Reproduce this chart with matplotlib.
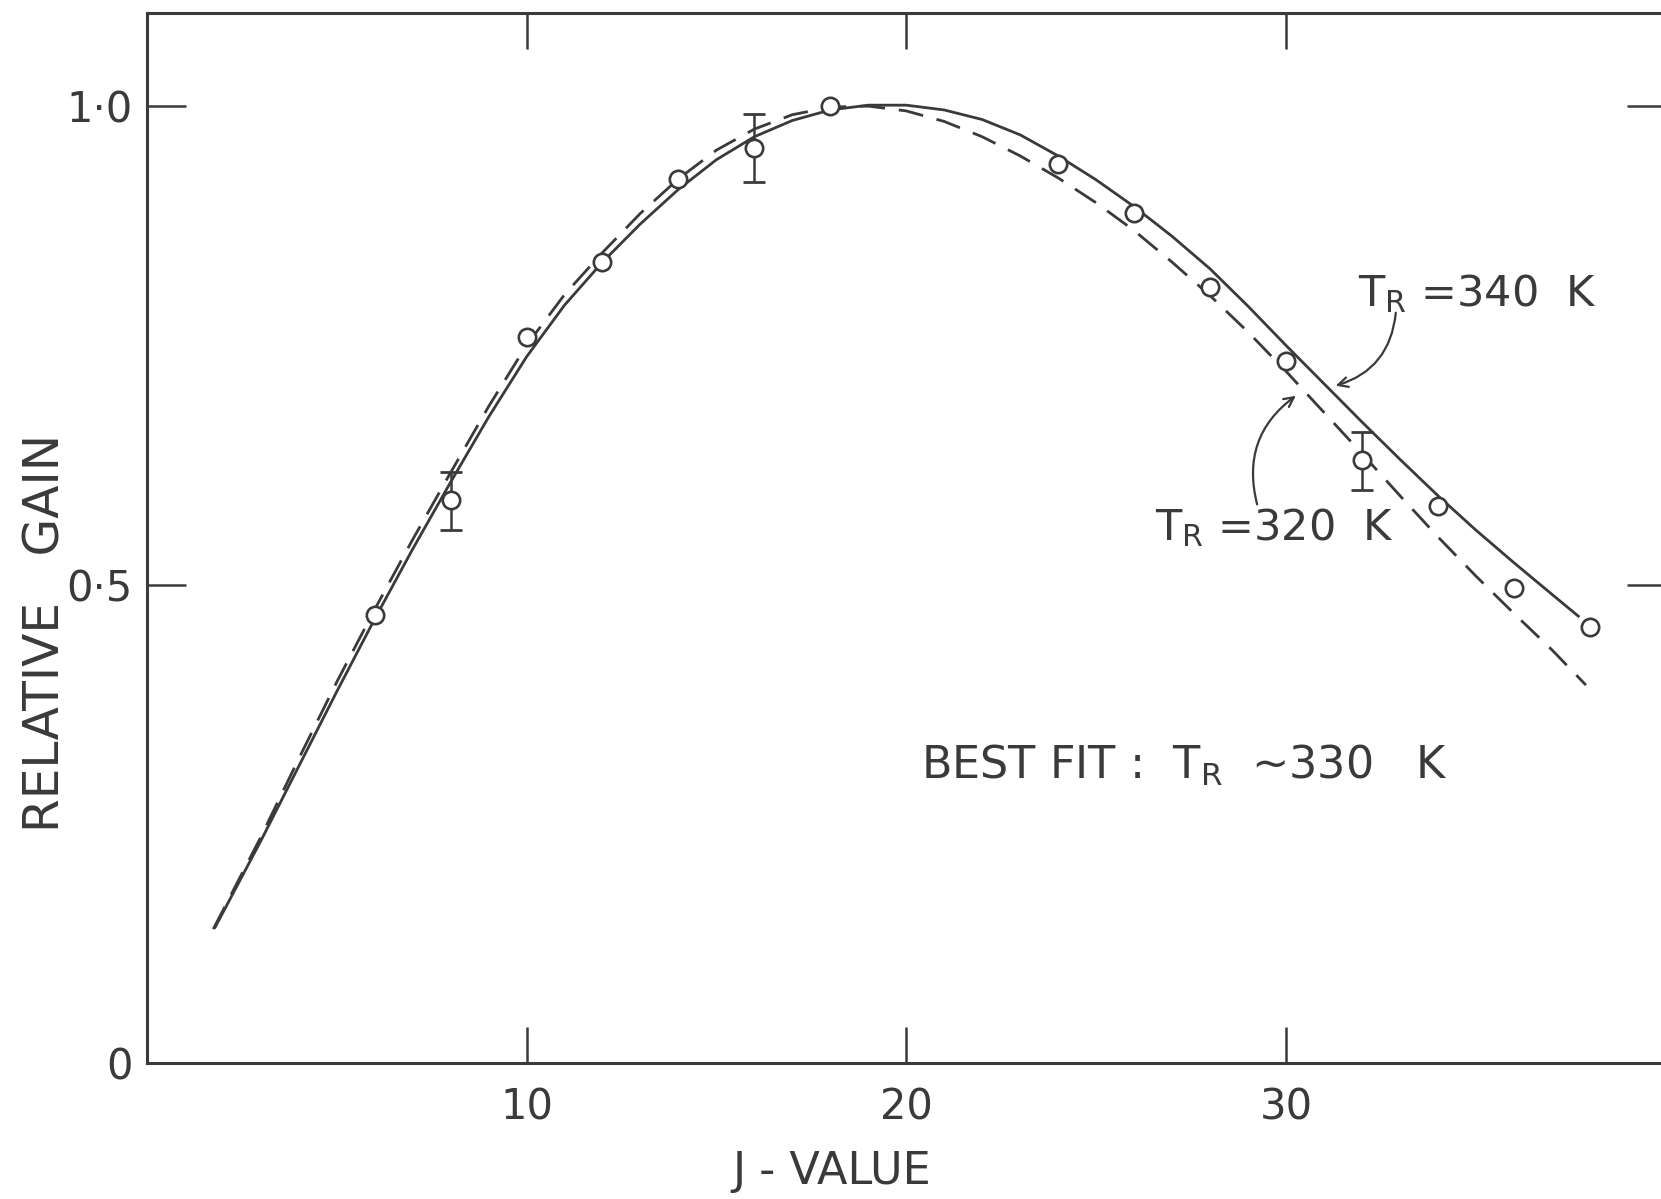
import matplotlib
matplotlib.use("Agg")
import matplotlib.pyplot as plt

# measured points (relative gain vs rotational J)
j_meas = [6, 8, 10, 12, 14, 16, 18, 24, 26, 28, 30, 32, 34, 36, 38]
gain_meas = [0.468, 0.588, 0.759, 0.837, 0.924, 0.956, 1.0, 0.939, 0.888,
             0.811, 0.734, 0.630, 0.582, 0.496, 0.456]

# error bars only on three points
j_err = [8, 16, 32]
gain_err = [0.588, 0.956, 0.630]
err_lo = [0.031, 0.035, 0.031]
err_hi = [0.030, 0.036, 0.029]

# T_R = 340 K fit (solid)
j_340 = [1.8, 3, 4, 5, 6, 7, 8, 9, 10, 11, 12, 13, 14, 15, 16, 17, 18, 19, 20,
         21, 22, 23, 24, 25, 26, 27, 28, 29, 30, 31, 32, 33, 34, 35, 36, 37, 37.7]
gain_340 = [0.142, 0.232, 0.310, 0.388, 0.464, 0.537, 0.607, 0.675, 0.738,
            0.792, 0.837, 0.877, 0.913, 0.944, 0.968, 0.985, 0.996, 1.001,
            1.001, 0.996, 0.986, 0.970, 0.948, 0.923, 0.895, 0.864, 0.830,
            0.791, 0.750, 0.710, 0.670, 0.631, 0.593, 0.557, 0.523, 0.490,
            0.467]

# T_R = 320 K fit (dashed)
j_320 = [1.75, 3, 4, 5, 6, 7, 8, 9, 10, 11, 12, 13, 14, 15, 16, 17, 18, 19, 20,
         21, 22, 23, 24, 25, 26, 27, 28, 29, 30, 31, 32, 33, 34, 35, 36, 37, 37.9]
gain_320 = [0.140, 0.236, 0.318, 0.398, 0.474, 0.547, 0.617, 0.686, 0.750,
            0.803, 0.847, 0.888, 0.924, 0.954, 0.976, 0.991, 0.999, 1.000,
            0.995, 0.984, 0.968, 0.948, 0.925, 0.899, 0.870, 0.837, 0.802,
            0.764, 0.723, 0.680, 0.637, 0.593, 0.550, 0.509, 0.470, 0.432,
            0.395]

x_ticks = [10, 20, 30]
y_ticks = [0, 0.5, 1.0]
y_ticklabels = ["0", "0\u00b75", "1\u00b70"]

INK = "#3a3a3a"
plt.rcParams["font.family"] = ["DejaVu Sans"]

fig = plt.figure(figsize=(16.61, 11.99), dpi=100)
ax = fig.add_axes([0.0884, 0.1134, 0.9144, 0.8755])

ax.plot(j_340, gain_340, color=INK, lw=2.0, zorder=2)
ax.plot(j_320, gain_320, color=INK, lw=2.0, dashes=(9, 5), zorder=2)
ax.errorbar(j_err, gain_err, yerr=[err_lo, err_hi], fmt="none", ecolor=INK,
            elinewidth=1.8, capsize=8, capthick=2.0, zorder=3)
ax.plot(j_meas, gain_meas, "o", ms=12.5, mfc="white", mec=INK, mew=1.9, zorder=4)

ax.set_xlim(0, 40)
ax.set_ylim(0, 1.097)
ax.set_xticks(x_ticks)
ax.set_yticks(y_ticks)
ax.set_yticklabels(y_ticklabels)
ax.tick_params(axis="x", direction="in", length=26, width=1.8, color=INK,
               top=True, bottom=True, labelsize=30, labelcolor=INK, pad=17)
ax.tick_params(axis="y", direction="in", length=28, width=1.8, color=INK,
               left=True, right=True, labelsize=30, labelcolor=INK, pad=10)
for sp in ax.spines.values():
    sp.set_color(INK)
    sp.set_linewidth(2.2)

ax.set_xlabel("J - VALUE", fontsize=32, color=INK)
ax.xaxis.set_label_coords(0.451, -0.083)
ax.set_ylabel("RELATIVE   GAIN", fontsize=35, color=INK)
ax.yaxis.set_label_coords(-0.051, 0.41)

ax.text(31.9, 0.804, r"$\mathregular{T_R}$ =340  K", fontsize=31, color=INK,
        ha="left", va="center")
ax.text(26.55, 0.560, r"$\mathregular{T_R}$ =320  K", fontsize=31, color=INK,
        ha="left", va="center")
ax.text(20.4, 0.311, r"BEST FIT :  $\mathregular{T_R}$  ~330   K", fontsize=32,
        color=INK, ha="left", va="center")

arrow = dict(arrowstyle="->,head_length=0.7,head_width=0.35", color=INK, lw=1.6)
ax.annotate("", xy=(31.24, 0.707), xytext=(32.9, 0.787),
            arrowprops=dict(arrow, connectionstyle="arc3,rad=-0.35"))
ax.annotate("", xy=(30.32, 0.699), xytext=(29.26, 0.581),
            arrowprops=dict(arrow, connectionstyle="arc3,rad=-0.35"))

fig.savefig("out.png", dpi=100)
